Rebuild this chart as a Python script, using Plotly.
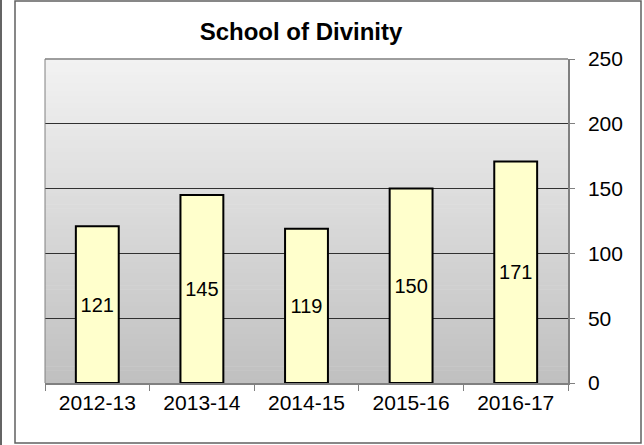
import plotly.graph_objects as go

categories = ["2012-13", "2013-14", "2014-15", "2015-16", "2016-17"]
values = [121, 145, 119, 150, 171]
y_ticks = [0, 50, 100, 150, 200, 250]

W, H = 644, 445
L, R, T, B = 45, 76, 59, 62
pw, ph = W - L - R, H - T - B
FONT = "Arial, Liberation Sans, sans-serif"

def px_x(x):
    return (x - L) / pw

def px_y(y):
    return (H - B - y) / ph

fig = go.Figure()
fig.add_trace(go.Bar(
    x=categories, y=values,
    marker=dict(color="#ffffcc", line=dict(color="#000000", width=2)),
    text=[str(v) for v in values],
    textposition="inside", insidetextanchor="middle",
    textfont=dict(family=FONT, size=20, color="#000"),
    width=0.41,
))

shapes = []
n = 80
top_c = (0xF2, 0xF2, 0xF2)
bot_c = (0xC0, 0xC0, 0xC0)
for i in range(n):
    f = i / (n - 1)
    c = tuple(round(bot_c[k] + (top_c[k] - bot_c[k]) * f) for k in range(3))
    shapes.append(dict(type="rect", xref="paper", yref="paper",
                       x0=0, x1=1, y0=i / n, y1=(i + 1) / n + 0.002,
                       fillcolor="rgb(%d,%d,%d)" % c, line=dict(width=0),
                       layer="below"))
# outer frame
shapes.append(dict(type="rect", xref="paper", yref="paper",
                   x0=px_x(15), x1=px_x(641), y0=px_y(443), y1=px_y(1),
                   line=dict(color="#606060", width=1.5), layer="below"))
# left edge line
shapes.append(dict(type="line", xref="paper", yref="paper",
                   x0=px_x(1), x1=px_x(1), y0=px_y(445), y1=px_y(0),
                   line=dict(color="#303030", width=1.5), layer="below"))
# plot area top/left border
shapes.append(dict(type="line", xref="paper", yref="paper",
                   x0=0, x1=1, y0=1, y1=1,
                   line=dict(color="#808080", width=1.5), layer="above"))
shapes.append(dict(type="line", xref="paper", yref="paper",
                   x0=0, x1=0, y0=0, y1=1,
                   line=dict(color="#808080", width=1), layer="above"))

fig.update_layout(
    width=W, height=H,
    margin=dict(l=L, r=R, t=T, b=B),
    paper_bgcolor="white",
    plot_bgcolor="rgba(0,0,0,0)",
    showlegend=False,
    bargap=0.6,
    title=dict(text="<b>School of Divinity</b>", x=px_x(301), xref="paper",
               xanchor="center", y=1 - 32 / H, yanchor="middle",
               font=dict(family=FONT, size=24, color="#000")),
    font=dict(family=FONT, color="#000"),
    shapes=shapes,
)
fig.update_xaxes(
    showline=True, linecolor="#808080", linewidth=1.5,
    ticks="outside", tickson="boundaries", ticklen=6, tickcolor="#808080",
    tickfont=dict(size=21, family=FONT, color="#000"),
    showgrid=False, zeroline=False,
)
fig.update_yaxes(
    side="right", range=[0, 250], tickvals=y_ticks,
    showline=True, linecolor="#808080", linewidth=1.5,
    ticks="outside", ticklen=5, tickcolor="#808080",
    ticklabelstandoff=9,
    tickfont=dict(size=21, family=FONT, color="#000"),
    showgrid=True, gridcolor="#303030", gridwidth=1,
    zeroline=False,
)
fig.write_html("out.html",
               config={"displayModeBar": False},
               post_script="document.body.style.margin='0';document.body.style.overflow='hidden';")
